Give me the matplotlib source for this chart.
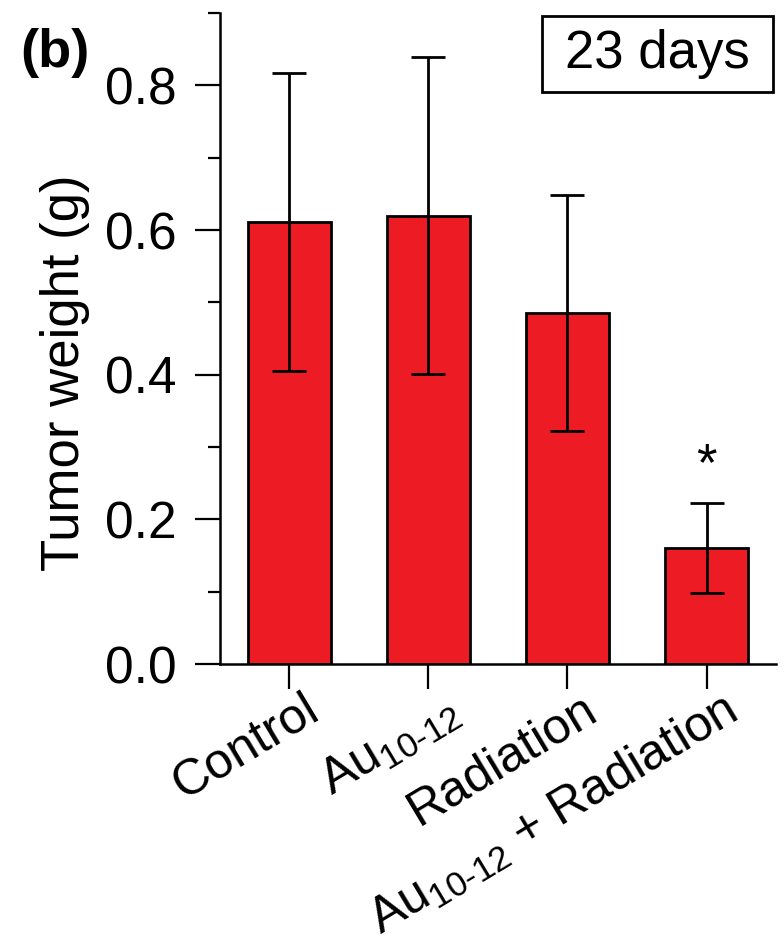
import numpy as np
import matplotlib.pyplot as plt
import matplotlib.transforms as mtransforms
from matplotlib.patches import Rectangle
from matplotlib.ticker import MultipleLocator

plt.rcParams['font.family'] = ['Liberation Sans', 'DejaVu Sans']
plt.rcParams['mathtext.fontset'] = 'custom'
plt.rcParams['mathtext.rm'] = 'Liberation Sans'
plt.rcParams['mathtext.it'] = 'Liberation Sans'
plt.rcParams['mathtext.default'] = 'regular'

# Tumor weight after 23 days
groups = ['Control', r'Au$_{10\text{-}12}$', 'Radiation', r'Au$_{10\text{-}12}$ + Radiation']
weight = [0.611, 0.620, 0.485, 0.160]
weight_err = [0.206, 0.219, 0.163, 0.062]
significant = [False, False, False, True]

fig = plt.figure(figsize=(7.84, 9.44), dpi=100)
ax = fig.add_axes([0.2806, 0.2966, 0.7092, 0.6896])

x = np.arange(len(groups))
ax.bar(x, weight, width=0.6, color='#ED1C24', edgecolor='black', linewidth=2.0, zorder=2)
ax.errorbar(x, weight, yerr=weight_err, fmt='none', ecolor='black',
            elinewidth=2.0, capsize=12, capthick=2.0, zorder=3)

# significance mark above the error bar
for xi, w, e, s in zip(x, weight, weight_err, significant):
    if s:
        ax.annotate('*', xy=(xi, w + e), xytext=(0, 17), textcoords='offset points',
                    ha='center', va='baseline', fontsize=38)

ax.set_xlim(-0.5, 3.5)
ax.set_ylim(0, 0.9)
ax.yaxis.set_major_locator(MultipleLocator(0.2))
ax.yaxis.set_minor_locator(MultipleLocator(0.1))
ax.yaxis.set_major_formatter(plt.FormatStrFormatter('%.1f'))

for side in ['top', 'right']:
    ax.spines[side].set_visible(False)
for side in ['left', 'bottom']:
    ax.spines[side].set_linewidth(1.8)

ax.tick_params(axis='both', which='major', length=18, width=1.6)
ax.tick_params(axis='y', which='major', pad=13, labelsize=37)
ax.tick_params(axis='x', which='major', pad=6)
ax.tick_params(axis='y', which='minor', length=9, width=1.6)

ax.set_xticks(x)
ax.set_xticklabels(groups, fontsize=36)
plt.setp(ax.get_xticklabels(), rotation=31, ha='right', va='top', rotation_mode='anchor')
# nudge the slanted labels to the right of their ticks
offset = mtransforms.ScaledTranslation(10 / 72, 8 / 72, fig.dpi_scale_trans)
for lab in ax.get_xticklabels():
    lab.set_transform(lab.get_transform() + offset)

ax.set_ylabel('Tumor weight (g)', fontsize=38)
ax.yaxis.set_label_coords(-0.234, 0.447)

fig.text(20 / 784, 1 - 28 / 944, '(b)', fontsize=39, fontweight='bold', ha='left', va='top')

# "23 days" box
fig.patches.append(Rectangle((542 / 784, 1 - 92 / 944), 231 / 784, 76 / 944,
                             transform=fig.transFigure, fill=False,
                             edgecolor='black', linewidth=2.0))
fig.text(657 / 784, 1 - 54 / 944, '23 days', fontsize=38, ha='center', va='center')

fig.savefig('out.png', dpi=100)
